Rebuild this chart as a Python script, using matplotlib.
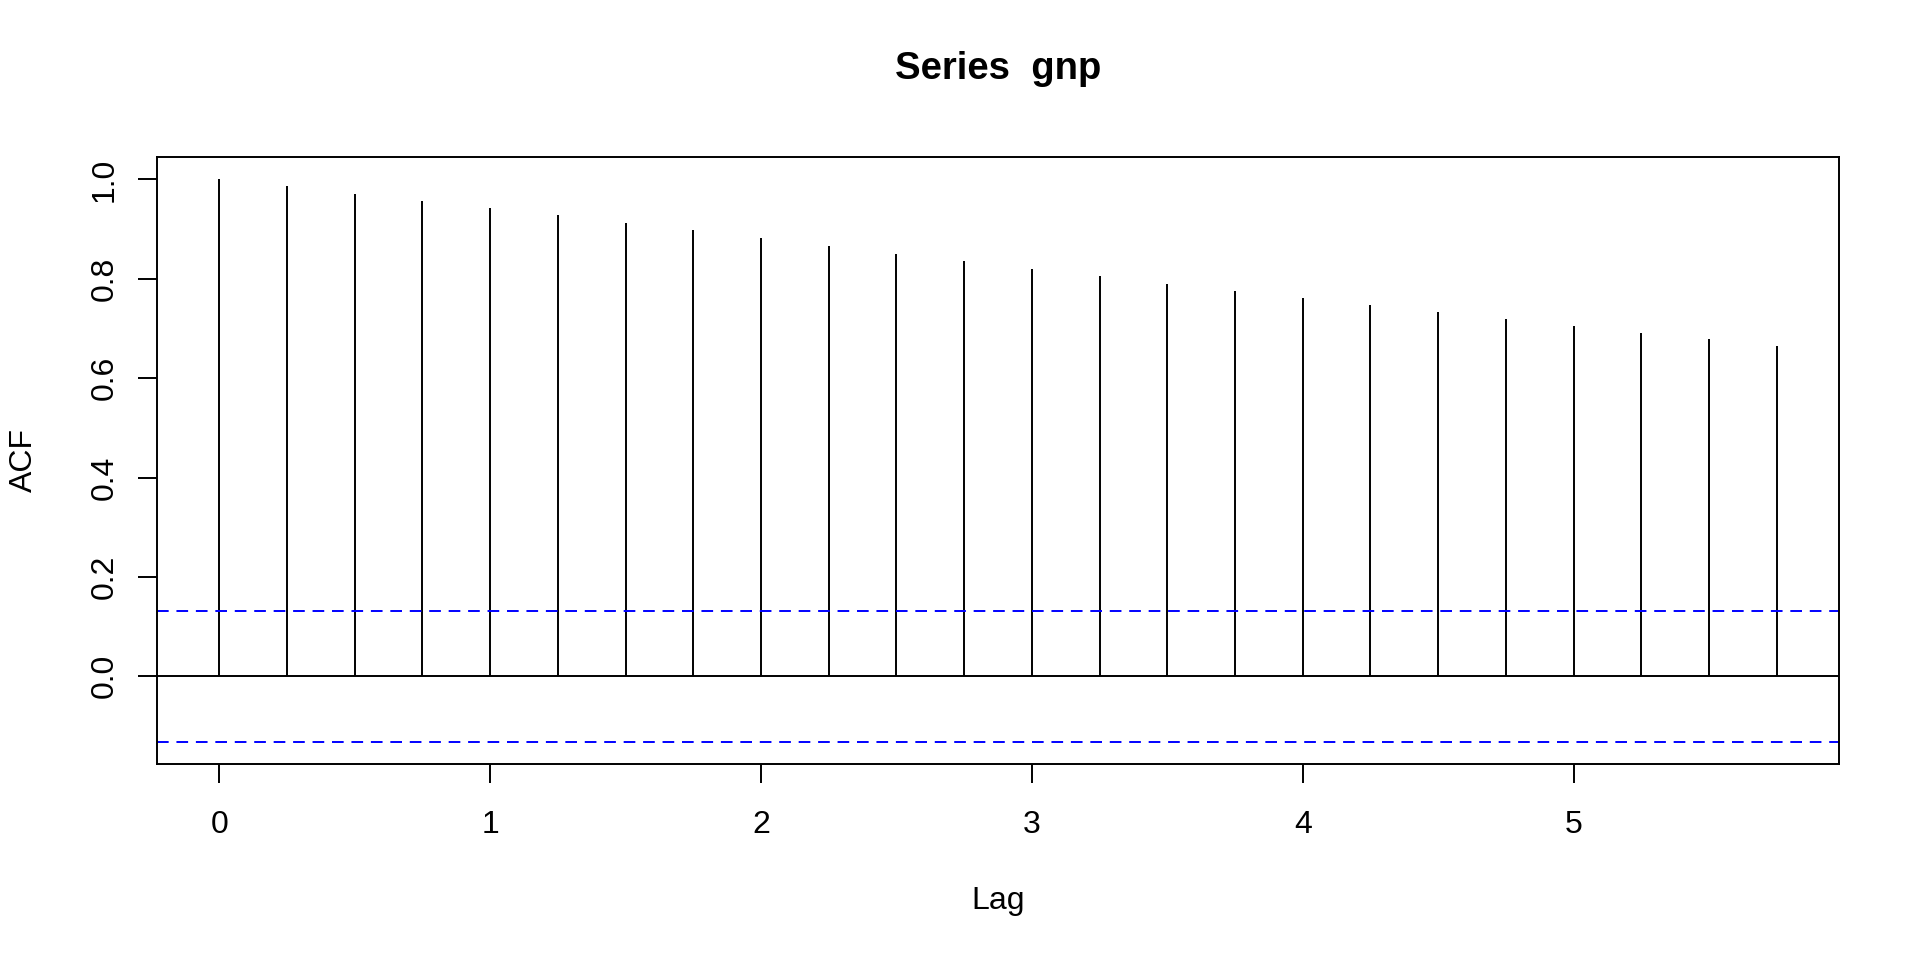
import numpy as np
import matplotlib
matplotlib.use("Agg")
import matplotlib.pyplot as plt

plt.rcParams['font.family'] = ['Liberation Sans', 'DejaVu Sans']

# ACF of gnp, quarterly lags (lag in years)
lags = np.arange(24) / 4.0
acf_vals = [1.000, 0.986, 0.971, 0.957, 0.942, 0.928, 0.913, 0.898,
            0.882, 0.867, 0.851, 0.835, 0.820, 0.805, 0.790, 0.775,
            0.761, 0.747, 0.733, 0.719, 0.706, 0.692, 0.679, 0.665]
ci = 0.1312
xticks = [0, 1, 2, 3, 4, 5]
yticks = [0.0, 0.2, 0.4, 0.6, 0.8, 1.0]

fig = plt.figure(figsize=(19.2, 9.6), dpi=100)
ax = fig.add_axes([157/1920, 1-764/960, (1839-157)/1920, (764-157)/960])

ax.vlines(lags, 0, acf_vals, color="black", linewidth=1.4)
ax.axhline(0, color="black", linewidth=1.4)
ax.axhline(ci, color="blue", linewidth=1.4, dashes=(6, 4))
ax.axhline(-ci, color="blue", linewidth=1.4, dashes=(6, 4))

xr = lags.max() - lags.min()
ax.set_xlim(lags.min() - 0.04*xr, lags.max() + 0.04*xr)
ymin, ymax = -ci, 1.0
yr = ymax - ymin
ax.set_ylim(ymin - 0.04*yr, ymax + 0.04*yr)

ax.set_xticks(xticks)
ax.set_xticklabels([str(v) for v in xticks])
ax.set_yticks(yticks)
ax.set_yticklabels(["%.1f" % v for v in yticks])
ax.tick_params(axis="both", direction="out", length=14, width=1.4, labelsize=23)
ax.tick_params(axis="x", pad=19)
ax.tick_params(axis="y", pad=13)
for lab in ax.get_yticklabels():
    lab.set_rotation(90)
    lab.set_va("center")
for sp in ax.spines.values():
    sp.set_linewidth(1.4)

fig.text(998/1920, 1-69/960, "Series  gnp", ha="center", va="center",
         fontsize=27.5, fontweight="bold")
fig.text(998/1920, 1-901/960, "Lag", ha="center", va="center", fontsize=23)
fig.text(24/1920, 1-460/960, "ACF", ha="center", va="center", fontsize=23,
         rotation=90)

fig.savefig("out.png", dpi=100)
